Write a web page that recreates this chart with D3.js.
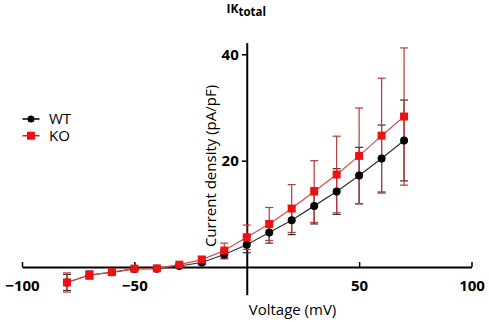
<!DOCTYPE html>
<html>
<head>
<meta charset="utf-8">
<script src="https://cdn.jsdelivr.net/npm/d3@7"></script>
<style>
  html, body { margin: 0; padding: 0; background: #fff; }
  svg { display: block; font-family: "Open Sans", "Liberation Sans", sans-serif; }
</style>
</head>
<body>
<svg id="chart" width="489" height="322"></svg>
<script>
// ---- data ----
const voltages = [-80, -70, -60, -50, -40, -30, -20, -10, 0, 10, 20, 30, 40, 50, 60, 70];
const wtMean = [-2.9, -1.5, -1.0, -0.35, -0.3, 0.2, 0.85, 2.35, 4.2, 6.5, 8.8, 11.5, 14.2, 17.2, 20.4, 23.8];
const wtSem  = [1.5, 0.6, 0.3, 0.2, 0.2, 0.2, 0.4, 0.8, 1.5, 2.0, 2.7, 3.4, 4.3, 5.3, 6.3, 7.6];
const koMean = [-2.9, -1.5, -0.95, -0.3, -0.25, 0.45, 1.4, 3.1, 5.6, 8.1, 11.0, 14.2, 17.4, 20.9, 24.7, 28.3];
const koSem  = [1.8, 0.8, 0.4, 0.3, 0.2, 0.3, 0.6, 1.4, 2.3, 3.1, 4.5, 5.8, 7.2, 9.0, 10.8, 12.9];
const seriesNames = ["WT", "KO"];
const xTicks = [-100, -50, 50, 100];
const yTicks = [20, 40];
const xDomain = [-100, 100];
const yDomain = [-5.2, 42.2];

const svg = d3.select("#chart");
const x = d3.scaleLinear(xDomain, [22, 471.5]);
const y = d3.scaleLinear(yDomain, [294.7, 42.6]);

const colors = { WT: "#000000", KO: "#ee1111" };
const lineColors = { WT: "#333333", KO: "#e04848" };
const errColors = { WT: "#333333", KO: "#b83a3a" };

const series = [
  { name: "WT", mean: wtMean, sem: wtSem },
  { name: "KO", mean: koMean, sem: koSem }
].map(s => ({ ...s, pts: voltages.map((v, i) => ({ v, m: s.mean[i], e: s.sem[i] })) }));

// ---- axes ----
const xAxisG = svg.append("g")
  .attr("transform", `translate(0,${y(0)})`)
  .call(d3.axisBottom(x).tickValues(xTicks).tickSizeInner(-5).tickSizeOuter(0).tickPadding(13.5)
        .tickFormat(d3.format("d")));
const yAxisG = svg.append("g")
  .attr("transform", `translate(${x(0)},0)`)
  .call(d3.axisLeft(y).tickValues(yTicks).tickSizeInner(5).tickSizeOuter(0).tickPadding(3));

[xAxisG, yAxisG].forEach(g => {
  g.select(".domain").attr("stroke", "#000").attr("stroke-width", 2);
  g.selectAll(".tick line").attr("stroke", "#000").attr("stroke-width", 1.5);
  g.selectAll(".tick text").attr("fill", "#000")
    .style("font-family", "'Open Sans', sans-serif")
    .style("font-weight", "bold").style("font-size", "15px");
});

// axis titles
svg.append("text")
  .attr("x", 292.5).attr("y", 315)
  .attr("text-anchor", "middle")
  .style("font-size", "15px").attr("fill", "#000")
  .text("Voltage (mV)");
svg.append("text")
  .attr("transform", `translate(216,166) rotate(-90)`)
  .attr("text-anchor", "middle")
  .style("font-size", "15px").attr("fill", "#000")
  .text("Current density (pA/pF)");

// chart title
const title = svg.append("text")
  .attr("x", 226.5).attr("y", 12.7)
  .style("font-weight", "bold").style("font-size", "12px").attr("fill", "#000");
title.append("tspan").text("IK");
title.append("tspan").attr("dy", 3.5).style("font-size", "11.5px").text("total");

// ---- error bars ----
const capW = 4;
series.forEach(s => {
  const g = svg.append("g").attr("stroke", errColors[s.name]).attr("stroke-width", 1.2).attr("fill", "none");
  s.pts.forEach(p => {
    const cx = x(p.v), yt = y(p.m + p.e), yb = y(p.m - p.e);
    g.append("line").attr("x1", cx).attr("x2", cx).attr("y1", yt).attr("y2", yb);
    g.append("line").attr("x1", cx - capW).attr("x2", cx + capW).attr("y1", yt).attr("y2", yt);
    g.append("line").attr("x1", cx - capW).attr("x2", cx + capW).attr("y1", yb).attr("y2", yb);
  });
});

// ---- lines ----
const line = d3.line().x(p => x(p.v)).y(p => y(p.m));
series.forEach(s => {
  svg.append("path").datum(s.pts)
    .attr("fill", "none").attr("stroke", lineColors[s.name]).attr("stroke-width", 1.2)
    .attr("d", line);
});

// ---- markers ----
const sq = 8;
svg.append("g").selectAll("circle").data(series[0].pts).join("circle")
  .attr("cx", p => x(p.v)).attr("cy", p => y(p.m)).attr("r", 4).attr("fill", colors.WT);
svg.append("g").selectAll("rect").data(series[1].pts).join("rect")
  .attr("x", p => x(p.v) - sq / 2).attr("y", p => y(p.m) - sq / 2)
  .attr("width", sq).attr("height", sq).attr("fill", colors.KO);

// ---- legend ----
const legY = [119, 135.7];
seriesNames.forEach((name, i) => {
  const g = svg.append("g").attr("transform", `translate(0,${legY[i]})`);
  g.append("line").attr("x1", 22.5).attr("x2", 39.5).attr("y1", 0).attr("y2", 0)
    .attr("stroke", name === "WT" ? "#000" : colors.KO).attr("stroke-width", 1.5);
  if (name === "WT") g.append("circle").attr("cx", 31).attr("cy", 0).attr("r", 3.5).attr("fill", colors.WT);
  else g.append("rect").attr("x", 27).attr("y", -4).attr("width", 8).attr("height", 8).attr("fill", colors.KO);
  g.append("text").attr("x", 49).attr("y", 0).attr("dy", "0.36em")
    .style("font-size", "15px").attr("fill", "#000").text(name);
});
</script>
</body>
</html>
